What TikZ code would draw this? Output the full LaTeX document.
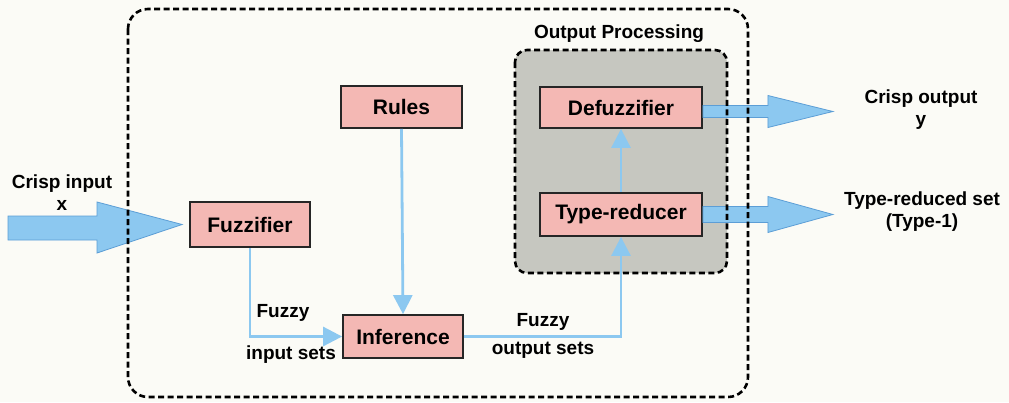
\documentclass[tikz,border=0pt]{standalone}
\usepackage{fontspec}
\setmainfont{Liberation Sans}
\usetikzlibrary{arrows.meta,calc}
\definecolor{bg}{HTML}{FBFBF6}
\definecolor{boxpink}{HTML}{F4B8B4}
\definecolor{lblue}{HTML}{8CC8F0}
\definecolor{dblue}{HTML}{5C9ED6}
\definecolor{procgray}{HTML}{C6C7C0}
\begin{document}
\begin{tikzpicture}[x=1pt,y=-1pt,
  blk/.style={draw=black!85,line width=1.8pt,fill=boxpink,minimum height=42pt,
    font=\fontsize{21}{24}\selectfont\bfseries,inner sep=0pt},
  lbl/.style={font=\fontsize{19}{22}\selectfont\bfseries,inner sep=0pt,align=center},
  flow/.style={draw=lblue,line width=2.8pt,-{Triangle[length=19pt,width=19pt]}},
  bigarrow/.style={fill=lblue,draw=dblue,line width=0.8pt,line join=miter},
  dashbox/.style={draw=black,line width=2.6pt,dash pattern=on 6pt off 3.5pt,rounded corners=20pt}]
\fill[bg] (0,0) rectangle (1009,402);
\useasboundingbox (0,0) rectangle (1009,402);
% gray processing area (fill)
\fill[procgray,rounded corners=12pt] (515,50) rectangle (727,273);
% blocks
\node[blk,minimum width=121pt] (rules) at (401.5,107) {Rules};
\node[blk,minimum width=120pt,minimum height=45pt] (fuzz) at (250,224.5) {Fuzzifier};
\node[blk,minimum width=120pt,minimum height=43pt] (inf) at (403,336.5) {Inference};
\node[blk,minimum width=162pt,minimum height=41pt] (defuzz) at (621,107.5) {Defuzzifier};
\node[blk,minimum width=162pt,minimum height=43pt] (tr) at (621,214.5) {Type-reducer};
% text labels
\node[lbl] (pl) at (619,34) {Output Processing};
\node[lbl] (ci) at (62,193) {Crisp input\\x};
\node[lbl] (co) at (921,110) {Crisp output\\y};
\node[lbl] (trs) at (922,212) {Type-reduced set\\(Type-1)};
\node[lbl] (fi1) at (283,313) {Fuzzy};
\node[lbl] (fi2) at (291,355) {input sets};
\node[lbl] (fo1) at (543,322) {Fuzzy};
\node[lbl] (fo2) at (543,350) {output sets};
% connectors
\draw[flow] (fuzz.south) |- (inf.west);
\draw[flow] (rules.south) -- (inf.north);
\draw[flow] (inf.east) -| (tr.south);
\draw[flow] (tr.north) -- (defuzz.south);
% big arrows
\coordinate (intip) at ($(fuzz.west)+(-7,0)$);
\draw[bigarrow] (8,216) -- (97,216) -- (97,202) -- (intip) -- (97,253) -- (97,240) -- (8,240) -- cycle;
\coordinate (o1) at ($(defuzz.east)+(130,4)$);
\draw[bigarrow] ($(defuzz.east)+(0,-2)$) -- ++(65,0) -- ++(0,-10) -- (o1) -- ($(defuzz.east)+(65,20)$) -- ++(0,-10) -- ($(defuzz.east)+(0,10)$) -- cycle;
\coordinate (o2) at ($(tr.east)+(130,0)$);
\draw[bigarrow] ($(tr.east)+(0,-8)$) -- ++(65,0) -- ++(0,-10) -- (o2) -- ($(tr.east)+(65,18)$) -- ++(0,-10) -- ($(tr.east)+(0,8)$) -- cycle;
% dashed borders
\draw[dashbox,rounded corners=12pt] (515,50) rectangle (727,273);
\draw[dashbox] (128,9) rectangle (748,397);
\end{tikzpicture}
\end{document}
